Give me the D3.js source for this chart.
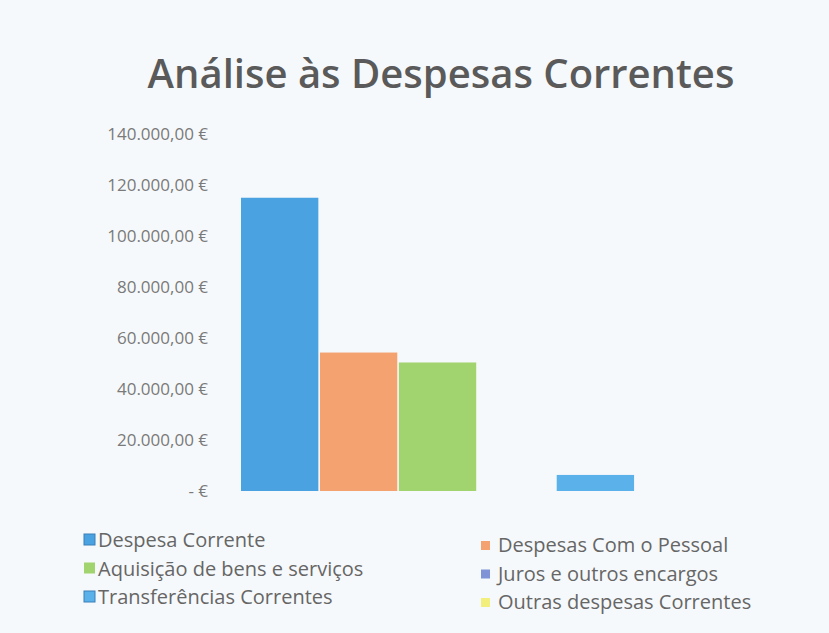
<!DOCTYPE html>
<html>
<head>
<meta charset="utf-8">
<script src="https://cdn.jsdelivr.net/npm/d3@7"></script>
<style>
  body { margin: 0; background: #f5f8fa; }
  svg { display: block; font-family: "Open Sans", "DejaVu Sans", sans-serif; }
</style>
</head>
<body>
<div id="chart"></div>
<script>
// data
var seriesNames = ["Despesa Corrente", "Despesas Com o Pessoal", "Aquisição de bens e serviços",
                   "Juros e outros encargos", "Transferências Correntes", "Outras despesas Correntes"];
var seriesValues = [115000, 54300, 50400, 0, 6300, 0];
var seriesColors = ["#4aa3e0", "#f5a271", "#a1d46e", "#7f93d6", "#5bb1ea", "#f2ef7c"];
var yTicks = [0, 20000, 40000, 60000, 80000, 100000, 120000, 140000];
var titleText = "Análise às Despesas Correntes";

const width = 829;
const height = 633;
const plot = {left: 241, right: 713, top: 134, bottom: 491};

var svg = d3.select("#chart").append("svg")
  .attr("width", width)
  .attr("height", height);

svg.append("rect")
  .attr("width", width)
  .attr("height", height)
  .attr("fill", "#f6f9fb");

/* title */
var title = svg.append("text")
  .attr("x", 441)
  .attr("y", 88)
  .attr("text-anchor", "middle")
  .attr("fill", "#5a5a5a")
  .attr("font-size", 38)
  .attr("font-weight", 600)
  .text(titleText);
// squeeze to the width seen in the picture
var tw = title.node().getComputedTextLength();
if (tw > 0) title.attr("font-size", 38 * 587 / tw);

/* scales */
var x = d3.scaleBand()
  .domain(seriesNames)
  .range([plot.left, plot.right])
  .paddingInner(0.02);

var y = d3.scaleLinear()
  .domain([0, 140000])
  .range([plot.bottom, plot.top]);

var locale = d3.formatLocale({decimal: ",", thousands: ".", grouping: [3], currency: ["", " €"]});
var fmt = locale.format(",.2f");

var yAxis = d3.axisLeft(y)
  .tickValues(yTicks)
  .tickSize(0)
  .tickPadding(0)
  .tickFormat(d => d === 0 ? "-   €" : fmt(d) + " €");

var gy = svg.append("g")
  .attr("transform", "translate(208,0)")
  .call(yAxis);
gy.select(".domain").remove();
gy.selectAll("text")
  .attr("fill", "#7a7a7a")
  .attr("font-size", 17)
  .attr("font-family", "'Open Sans', sans-serif");

/* bars */
svg.append("g")
  .selectAll("rect")
  .data(seriesNames)
  .enter().append("rect")
  .attr("x", d => x(d))
  .attr("width", x.bandwidth())
  .attr("y", (d, i) => y(seriesValues[i]))
  .attr("height", (d, i) => y(0) - y(seriesValues[i]))
  .attr("fill", (d, i) => seriesColors[i]);

/* legend: two columns, three rows */
var legend = svg.append("g")
  .selectAll("g")
  .data(seriesNames)
  .enter().append("g")
  .attr("transform", function (d, i) {
    var col = i % 2, row = Math.floor(i / 2);
    var lx = col === 0 ? 84 : 481;
    var ly = (col === 0 ? 540 : 545) + row * 28.5;
    return `translate(${lx}, ${ly})`;
  });

legend.append("rect")
  .attr("x", 0)
  .attr("y", (d, i) => i % 2 === 0 ? -6 : -4)
  .attr("width", (d, i) => i % 2 === 0 ? 11 : 9)
  .attr("height", (d, i) => i % 2 === 0 ? 11 : 9)
  .attr("fill", (d, i) => seriesColors[i])
  .attr("stroke", (d, i) => i === 0 || i === 4 ? "#3a7fb8" : "none")
  .attr("stroke-width", 1);

legend.append("text")
  .attr("x", (d, i) => i % 2 === 0 ? 14 : 17)
  .attr("y", 0)
  .attr("dy", "0.35em")
  .attr("fill", "#666")
  .attr("font-size", 20)
  .text(d => d);
</script>
</body>
</html>
